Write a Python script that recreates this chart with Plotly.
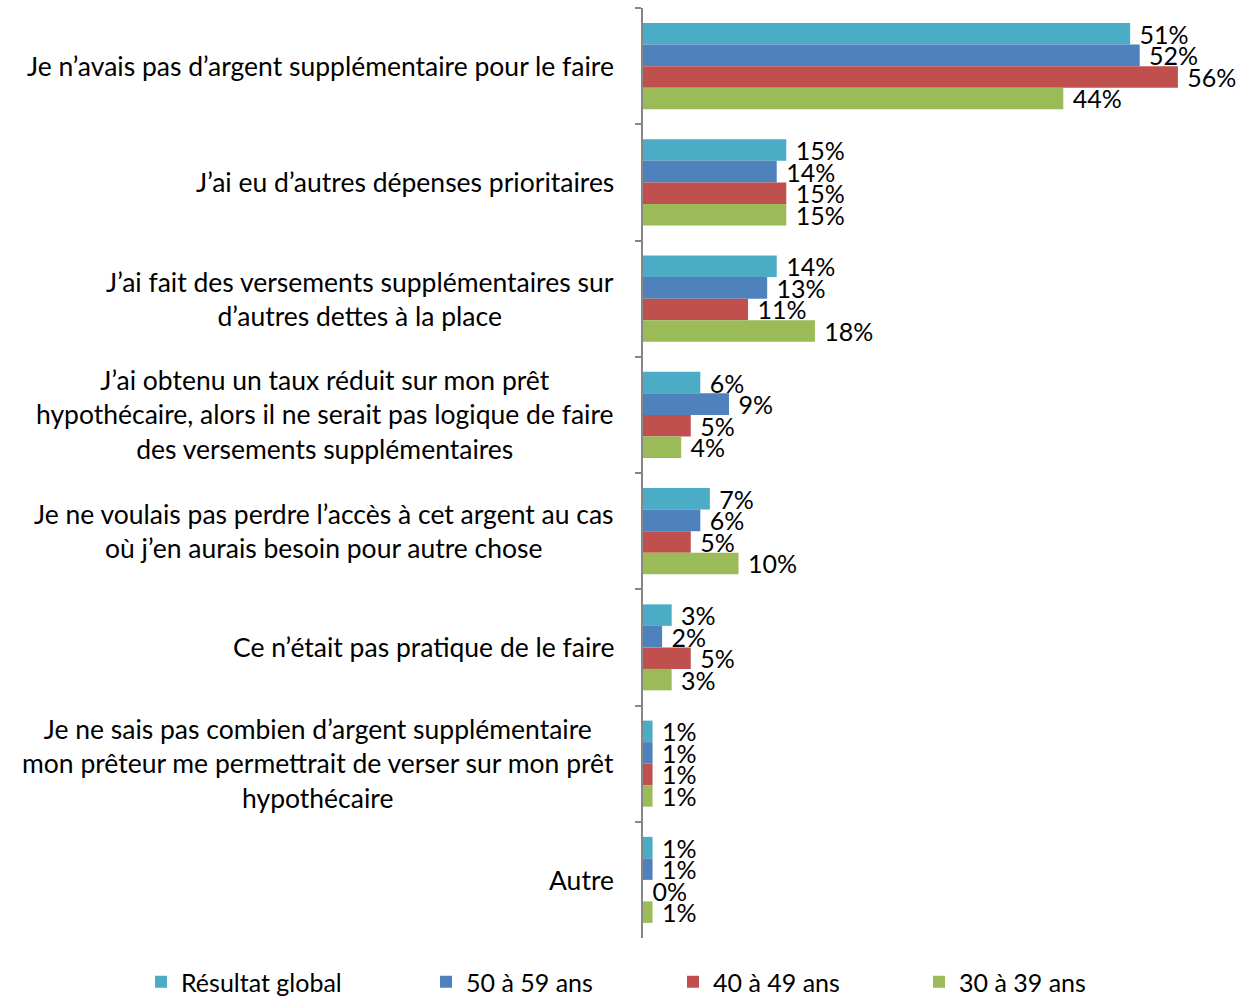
import plotly.graph_objects as go

categories = [
    "Je n’avais pas d’argent supplémentaire pour le faire",
    "J’ai eu d’autres dépenses prioritaires",
    "J’ai fait des versements supplémentaires sur<br>d’autres dettes à la place",
    "J’ai obtenu un taux réduit sur mon prêt<br>hypothécaire, alors il ne serait pas logique de faire<br>des versements supplémentaires",
    "Je ne voulais pas perdre l’accès à cet argent au cas<br>où j’en aurais besoin pour autre chose",
    "Ce n’était pas pratique de le faire",
    "Je ne sais pas combien d’argent supplémentaire<br>mon prêteur me permettrait de verser sur mon prêt<br>hypothécaire",
    "Autre",
]

series_names = ["Résultat global", "50 à 59 ans", "40 à 49 ans", "30 à 39 ans"]
resultat_global = [51, 15, 14, 6, 7, 3, 1, 1]
ans_50_59 = [52, 14, 13, 9, 6, 2, 1, 1]
ans_40_49 = [56, 15, 11, 5, 5, 5, 1, 0]
ans_30_39 = [44, 15, 18, 4, 10, 3, 1, 1]
series_values = [resultat_global, ans_50_59, ans_40_49, ans_30_39]
colors = ["#4BACC6", "#4F81BD", "#C0504D", "#9BBB59"]

FONT = "Lato"
W, H = 1249, 1000
ML, MR, MT, MB = 643, 9, 8, 62
PW = W - ML - MR
PH = H - MT - MB

legend_px = [141, 426, 673, 919]
legend_names = ["legend", "legend2", "legend3", "legend4"]

fig = go.Figure()
for i, (name, vals, col) in enumerate(zip(series_names, series_values, colors)):
    fig.add_trace(go.Bar(
        y=categories, x=vals, name=name, orientation="h",
        marker=dict(color=col, line=dict(width=0)),
        text=[f"\u00a0{v}%" for v in vals], textposition="outside",
        textfont=dict(family=FONT, size=25, color="#000000"),
        constraintext="none", cliponaxis=False,
        legend=legend_names[i], showlegend=True,
    ))

annotations = []
for c in categories:
    annotations.append(dict(
        x=0, y=c, xref="x", yref="y", text=c, showarrow=False,
        xanchor="right", yanchor="middle", align="center", xshift=-27,
        font=dict(family=FONT, size=26.5, color="#000000"),
    ))

layout_legends = {}
for ln, px in zip(legend_names, legend_px):
    layout_legends[ln] = dict(
        x=(px - ML) / PW, y=-(959 - (H - MB)) / PH, xanchor="left", yanchor="top",
        orientation="h", font=dict(family=FONT, size=25, color="#000000"),
        bgcolor="rgba(0,0,0,0)", borderwidth=0,
    )

fig.update_layout(
    width=W, height=H,
    margin=dict(l=ML, r=MR, t=MT, b=MB, autoexpand=False),
    paper_bgcolor="white", plot_bgcolor="white",
    showlegend=True,
    barmode="group", bargap=0.26, bargroupgap=0,
    font=dict(family=FONT, color="#000000"),
    annotations=annotations,
    xaxis=dict(range=[0, 62.5], visible=False, showgrid=False, zeroline=False),
    yaxis=dict(autorange="reversed", showticklabels=False, showline=True,
               linecolor="#868686", linewidth=1.5, ticks="outside", tickson="boundaries",
               ticklen=6, tickcolor="#868686", tickwidth=1.5, showgrid=False, zeroline=False),
    **layout_legends,
)

fig.write_html("out.html", config={"displayModeBar": False},
               post_script="document.body.style.margin='0';document.body.style.overflow='hidden';")
